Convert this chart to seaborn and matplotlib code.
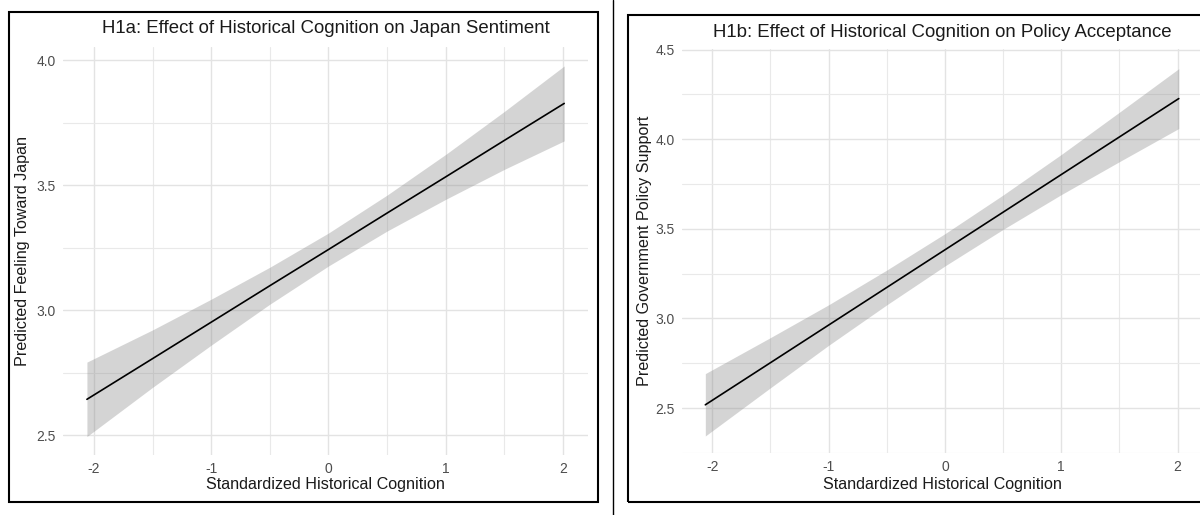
import numpy as np
import pandas as pd
import matplotlib
matplotlib.use("Agg")
import matplotlib.pyplot as plt
from matplotlib.patches import Rectangle
from matplotlib.lines import Line2D
from matplotlib.ticker import MultipleLocator
import seaborn as sns

# Predicted values with 95% confidence band (H1a: feeling toward Japan)
h1a_x = [-2.06, -1.5, -1.0, -0.5, 0.0, 0.5, 1.0, 1.5, 2.01]
h1a_fit = [2.643, 2.806, 2.952, 3.098, 3.243, 3.389, 3.534, 3.680, 3.828]
h1a_low = [2.494, 2.691, 2.860, 3.024, 3.177, 3.317, 3.444, 3.564, 3.678]
h1a_high = [2.792, 2.921, 3.044, 3.172, 3.309, 3.461, 3.624, 3.796, 3.978]

# Predicted values with 95% confidence band (H1b: policy support)
h1b_x = [-2.06, -1.5, -1.0, -0.5, 0.0, 0.5, 1.0, 1.5, 2.01]
h1b_fit = [2.518, 2.753, 2.963, 3.173, 3.383, 3.593, 3.803, 4.013, 4.227]
h1b_low = [2.344, 2.613, 2.850, 3.076, 3.293, 3.497, 3.691, 3.875, 4.060]
h1b_high = [2.692, 2.893, 3.076, 3.270, 3.473, 3.689, 3.915, 4.151, 4.394]

x_ticks = [-2, -1, 0, 1, 2]
h1a_yticks = [2.5, 3.0, 3.5, 4.0]
h1b_yticks = [2.5, 3.0, 3.5, 4.0, 4.5]

x_title = "Standardized Historical Cognition"
h1a_title = "H1a: Effect of Historical Cognition on Japan Sentiment"
h1b_title = "H1b: Effect of Historical Cognition on Policy Acceptance"
h1a_ylab = "Predicted Feeling Toward Japan"
h1b_ylab = "Predicted Government Policy Support"

sns.set_theme(style="white")
plt.rcParams["font.family"] = ["Liberation Sans", "DejaVu Sans"]

W, H = 1200, 515
fig = plt.figure(figsize=(W / 100, H / 100), dpi=100)
fig.patch.set_facecolor("white")


def px_axes(x0, y0, x1, y1):
    return fig.add_axes([x0 / W, 1 - y1 / H, (x1 - x0) / W, (y1 - y0) / H])


def draw_panel(ax, xs, fit, low, high, yticks, ylim, title, ylab, title_y, ylab_x, xlab_y):
    df = pd.DataFrame({"x": xs, "fit": fit, "low": low, "high": high})
    ax.fill_between(df["x"], df["low"], df["high"], color="#7f7f7f", alpha=0.33,
                    linewidth=0, zorder=2)
    sns.lineplot(data=df, x="x", y="fit", ax=ax, color="black", linewidth=1.2,
                 zorder=3, estimator=None)
    ax.set_xlim(-2.264, 2.213)
    ax.set_ylim(*ylim)
    ax.set_xticks(x_ticks)
    ax.set_xticklabels([str(t) for t in x_ticks])
    ax.set_yticks(yticks)
    ax.set_yticklabels([f"{t:.1f}" for t in yticks])
    ax.xaxis.set_minor_locator(MultipleLocator(0.5))
    ax.yaxis.set_minor_locator(MultipleLocator(0.25))
    ax.grid(which="major", color="#e3e3e3", linewidth=1.0, zorder=0)
    ax.grid(which="minor", color="#e9e9e9", linewidth=0.8, zorder=0)
    ax.set_axisbelow(True)
    for s in ax.spines.values():
        s.set_visible(False)
    ax.tick_params(which="both", length=0, pad=5.0, labelsize=10, labelcolor="#4d4d4d")
    ax.set_xlabel(x_title, fontsize=11.6, color="#1a1a1a", va="center")
    ax.set_ylabel(ylab, fontsize=11.6, color="#1a1a1a", va="center")
    ax.xaxis.set_label_coords(0.5, xlab_y)
    ax.yaxis.set_label_coords(ylab_x, 0.5)
    ax.text(0.5, title_y, title, transform=ax.transAxes, ha="center", va="center",
            fontsize=13.4, color="#1a1a1a")
    ax.set_facecolor("white")


ax1 = px_axes(63, 47, 588, 455)
draw_panel(ax1, h1a_x, h1a_fit, h1a_low, h1a_high, h1a_yticks, (2.420, 4.054),
           h1a_title, h1a_ylab, 1 + (47 - 28.5) / 408, (23 - 63) / 525, (455 - 485) / 408)

ax2 = px_axes(681.6, 49.3, 1202.4, 453)
draw_panel(ax2, h1b_x, h1b_fit, h1b_low, h1b_high, h1b_yticks, (2.249, 4.502),
           h1b_title, h1b_ylab, 1 + (49.3 - 32) / 403.7, (644 - 681.6) / 520.8,
           (453 - 485) / 403.7)

# Frames around each panel and the divider between them
fig.add_artist(Rectangle((9 / W, 1 - 502 / H), (598 - 9) / W, (502 - 12) / H,
                         transform=fig.transFigure, fill=False, edgecolor="black",
                         linewidth=1.5))
fig.add_artist(Rectangle((628 / W, 1 - 502 / H), (1210 - 628) / W, (502 - 15) / H,
                         transform=fig.transFigure, fill=False, edgecolor="black",
                         linewidth=1.5))
fig.add_artist(Line2D([613 / W, 613 / W], [0, 1], transform=fig.transFigure,
                      color="black", linewidth=1.0))

fig.savefig("out.png", dpi=100, facecolor="white")
